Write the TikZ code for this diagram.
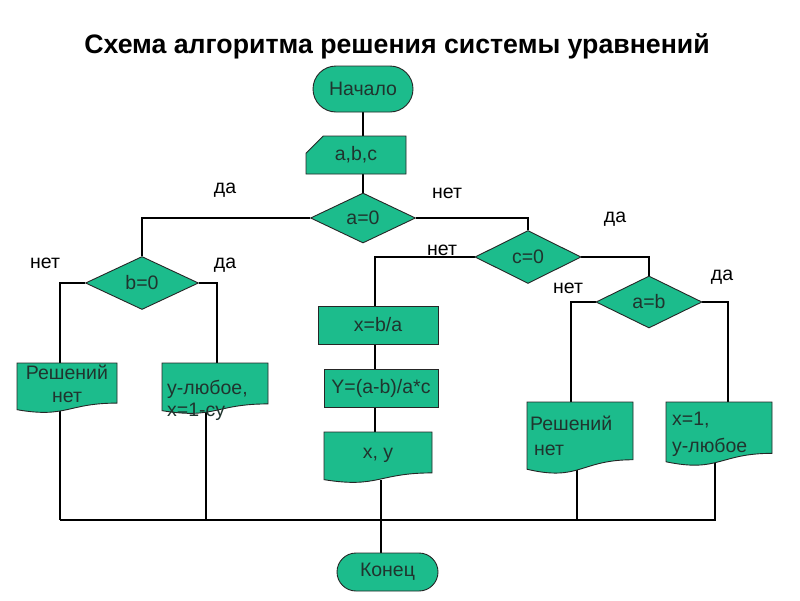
\documentclass[tikz,border=0pt]{standalone}
\usepackage{fontspec}
\setmainfont{Liberation Sans}
\usetikzlibrary{shapes.geometric,shapes.misc}
\pgfdeclarelayer{bg}
\pgfdeclarelayer{lines}
\pgfdeclarelayer{shapes}
\pgfsetlayers{bg,lines,shapes,main}
\definecolor{boxfill}{RGB}{28,188,140}
\definecolor{boxtext}{RGB}{32,52,46}
\tikzset{
  shapebox/.style={draw=black!85, line width=0.9pt, fill=boxfill, text=boxtext,
    font=\fontsize{19.5}{23}\selectfont, inner sep=0pt},
  terminal/.style={shapebox, rounded rectangle},
  procbox/.style={shapebox, rectangle},
  decision/.style={shapebox, diamond},
  inputbox/.style={shapebox, chamfered rectangle, chamfered rectangle corners=north west,
    chamfered rectangle xsep=9pt, chamfered rectangle ysep=9pt},
  doctext/.style={text=boxtext, font=\fontsize{19.5}{23}\selectfont, inner sep=0pt},
  lbl/.style={font=\fontsize{19.5}{23}\selectfont, inner sep=0pt, anchor=base},
  conn/.style={line width=1.1pt, black},
}
% name, x1, ytop, x2, H, text
\newcommand\docbox[6]{%
  \begin{pgfonlayer}{shapes}
  \filldraw[draw=black!85, line width=0.9pt, fill=boxfill]
    (#2,#3) -- (#4,#3) -- (#4,{#3+0.802*#5})
    .. controls ({(#2+#4)/2},{#3+0.802*#5}) and ({(#2+#4)/2},{#3+1.107*#5}) ..
    (#2,{#3+0.934*#5}) -- cycle;
  \end{pgfonlayer}
  \node[doctext, minimum width={(#4-#2)*1pt}, minimum height={0.934*#5*1pt}]
    (#1) at ({(#2+#4)/2},{#3+0.467*#5}) {#6};
}
\begin{document}
\begin{tikzpicture}[x=1pt,y=-1pt]
\begin{pgfonlayer}{bg}
\fill[white] (0,0) rectangle (800,600);
\end{pgfonlayer}
\useasboundingbox (0,0) rectangle (800,600);

\node[font=\fontsize{26.7}{32}\selectfont\bfseries, anchor=base, inner sep=0pt] (title) at (397,53)
  {Схема алгоритма решения системы уравнений};

\node[terminal, minimum width=100pt, minimum height=46pt] (start) at (363,89) {Начало};
\node[inputbox, minimum width=100pt, minimum height=38pt] (input) at (356,155) {a,b,c};
\node[decision, minimum width=105pt, minimum height=50pt] (a0) at (363,218) {a=0};
\node[decision, minimum width=113pt, minimum height=53pt] (b0) at (142,283) {b=0};
\node[decision, minimum width=106pt, minimum height=53pt] (c0) at (528,257) {c=0};
\node[decision, minimum width=106pt, minimum height=52pt] (ab) at (649,302) {a=b};
\node[procbox, minimum width=120pt, minimum height=38pt] (xba) at (378,325) {x=b/a};
\node[procbox, minimum width=114pt, minimum height=38pt] (yeq) at (381,388) {Y=(a-b)/a*c};
\docbox{xy}{324}{432}{432}{51}{x, y}
\node[terminal, minimum width=101pt, minimum height=38pt] (konec) at (387.5,572) {Конец};
\docbox{noneL}{17}{363}{117}{50}{}
\docbox{yanyL}{162}{363}{268}{51}{}
\docbox{noneR}{527}{402}{633}{72}{}
\docbox{xoneR}{666}{402}{772}{64}{}

\node[doctext, anchor=base] (noneL1) at (67,379) {Решений};
\node[doctext, anchor=base] (noneL2) at (67,402) {нет};
\node[doctext, anchor=base west] (yanyL1) at (167,394) {у-любое,};
\node[doctext, anchor=base west] (yanyL2) at (167,416) {x=1-cy};
\node[doctext, anchor=base west] (noneR1) at (530,430) {Решений};
\node[doctext, anchor=base west] (noneR2) at (534,455) {нет};
\node[doctext, anchor=base west] (xoneR1) at (672,425) {x=1,};
\node[doctext, anchor=base west] (xoneR2) at (672,452) {у-любое};

\node[lbl] (la0yes) at (225,193) {да};
\node[lbl] (la0no) at (447,198) {нет};
\node[lbl] (lb0no) at (45,268) {нет};
\node[lbl] (lb0yes) at (225,268) {да};
\node[lbl] (lc0no) at (442,255) {нет};
\node[lbl] (lc0yes) at (615,222) {да};
\node[lbl] (labno) at (568,293) {нет};
\node[lbl] (labyes) at (722,280) {да};

\begin{pgfonlayer}{lines}
\draw[conn] (start.south) -- (start.south |- input.north);
\draw[conn] (a0.north |- input.south) -- (a0.north);
\draw[conn] (a0.west) -| (b0.north);
\draw[conn] (a0.east) -| (c0.north);
\draw[conn] (b0.west) -| ([xshift=-7pt]noneL.north);
\draw[conn] (b0.east) -| ([xshift=2pt]yanyL.north);
\draw[conn] (c0.west) -| ([xshift=-3pt]xba.north);
\draw[conn] ([xshift=-3pt]xba.south) -- ([xshift=-3pt]xba.south |- yeq.north);
\draw[conn] ([xshift=-3pt]xba.south |- yeq.south) -- ([xshift=-3pt]xba.south |- xy.north);
\draw[conn] (c0.east) -| (ab.north);
\draw[conn] (ab.west) -| ([xshift=-9pt]noneR.north);
\draw[conn] (ab.east) -| ([xshift=9pt]xoneR.north);
\coordinate (busL) at (60,520);
\coordinate (busR) at (716,520);
\draw[conn] (busL) -- (busR);
\draw[conn] ([xshift=-7pt]noneL.south) -- ([xshift=-7pt]noneL.south |- busL);
\draw[conn] ([xshift=-9pt]yanyL.south) -- ([xshift=-9pt]yanyL.south |- busL);
\draw[conn] ([xshift=-3pt]noneR.south) -- ([xshift=-3pt]noneR.south |- busL);
\draw[conn] ([xshift=-4pt]xoneR.south) -- ([xshift=-4pt]xoneR.south |- busL);
\draw[conn] ([xshift=3pt]xy.south) -- ([xshift=3pt]xy.south |- konec.north);
\end{pgfonlayer}
\end{tikzpicture}
\end{document}
